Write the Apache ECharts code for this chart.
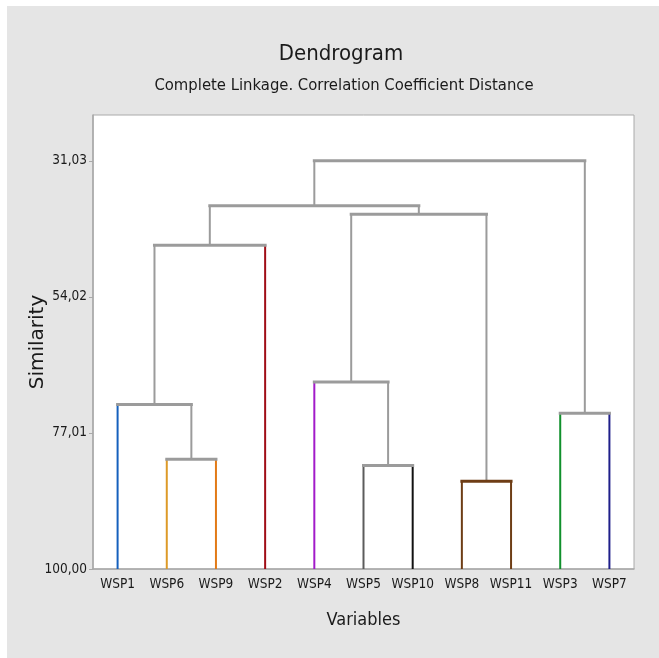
<!DOCTYPE html>
<html>
<head>
<meta charset="utf-8">
<script src="https://cdn.jsdelivr.net/npm/echarts@6/dist/echarts.min.js"></script>
<style>html,body{margin:0;padding:0;background:#fff}#c{width:659px;height:658px}</style>
</head>
<body>
<div id="c"></div>
<script>
// ---- data ----
const leaves = ['WSP1','WSP6','WSP9','WSP2','WSP4','WSP5','WSP10','WSP8','WSP11','WSP3','WSP7'];
// merge steps: node ids 0..10 are leaves (in display order), merge k creates node 11+k
const mergeLeft  = [7, 5, 1, 9, 0, 4, 15, 16, 17, 19];
const mergeRight = [8, 6, 2, 10, 13, 12, 3, 11, 18, 14];
const mergeSimilarity = [85.18, 82.52, 81.45, 73.67, 72.20, 68.42, 45.29, 40.05, 38.64, 31.03];
const yTickLabels = [100.00, 77.01, 54.02, 31.03];

// ---- styles ----
const leafColors = ['#1560bd','#dd9a28','#e27a17','#a00d16','#a21bc9','#5c5c5c','#111111','#6e3d15','#6e3d15','#10902c','#1f1f8a'];
const gray = '#9b9b9b';
const NF = "'Liberation Sans Narrow','DejaVu Sans Condensed',sans-serif";

// ---- build segments (distance = 100 - similarity) ----
const nLeaf = leaves.length;
const nodeX = leaves.map((_, i) => i);
const nodeD = leaves.map(() => 0);
const segs = []; // [x1, d1, x2, d2, color, kind]
mergeLeft.forEach((l, k) => {
  const r = mergeRight[k];
  const d = 100 - mergeSimilarity[k];
  const cl = l < nLeaf ? leafColors[l] : gray;
  const cr = r < nLeaf ? leafColors[r] : gray;
  const ch = (l < nLeaf && r < nLeaf && cl === cr) ? cl : gray;
  segs.push([nodeX[l], nodeD[l], nodeX[l], d, cl, 0]);
  segs.push([nodeX[r], nodeD[r], nodeX[r], d, cr, 0]);
  segs.push([nodeX[l], d, nodeX[r], d, ch, 1]);
  nodeX.push((nodeX[l] + nodeX[r]) / 2);
  nodeD.push(d);
});
const tickVals = yTickLabels.map(v => 100 - v);
const fmt = v => (100 - v).toFixed(2).replace('.', ',');

const chart = echarts.init(document.getElementById('c'));
chart.setOption({
  animation: false,
  backgroundColor: '#ffffff',
  graphic: [{
    type: 'rect', z: -100, silent: true,
    shape: {x: 7, y: 6, width: 652, height: 652},
    style: {fill: '#e5e5e5'}
  }],
  title: [{
    text: 'Dendrogram', left: 336, top: 38, textAlign: 'center',
    textStyle: {fontFamily: NF, fontSize: 22, fontWeight: 'normal', color: '#1a1a1a'}
  }, {
    text: 'Complete Linkage. Correlation Coefficient Distance', left: 339, top: 72, textAlign: 'center',
    textStyle: {fontFamily: NF, fontSize: 16.5, fontWeight: 'normal', color: '#1a1a1a'}
  }],
  grid: {left: 93, right: 25, top: 115, bottom: 89, show: true, backgroundColor: '#ffffff', borderColor: '#aaaaaa', borderWidth: 1},
  xAxis: [{
    type: 'category', data: leaves, boundaryGap: true, position: 'bottom',
    name: 'Variables', nameLocation: 'middle', nameGap: 42,
    nameTextStyle: {fontFamily: NF, fontSize: 18, color: '#1a1a1a'},
    axisLine: {lineStyle: {color: '#a9a9a9', width: 1.5}},
    axisTick: {alignWithLabel: true, length: 4, lineStyle: {color: '#a9a9a9'}},
    axisLabel: {fontFamily: NF, fontSize: 13.5, color: '#1a1a1a', margin: 8, interval: 0},
    splitLine: {show: false}
  }, {
    type: 'value', min: -0.5, max: 10.5, show: false
  }],
  yAxis: {
    type: 'value', min: 0, max: 76.7,
    name: 'Similarity', nameLocation: 'middle', nameGap: 45, nameRotate: 90, nameMoveOverlap: false,
    nameTextStyle: {fontFamily: "'DejaVu Sans',sans-serif", fontSize: 20, color: '#1a1a1a'},
    axisLine: {show: true, onZero: false, lineStyle: {color: '#a9a9a9', width: 1.5}},
    axisTick: {show: true, length: 4, lineStyle: {color: '#a9a9a9'}, customValues: tickVals},
    axisLabel: {fontFamily: NF, fontSize: 13.5, color: '#1a1a1a', margin: 6, customValues: tickVals, formatter: fmt},
    splitLine: {show: false}
  },
  series: [{
    type: 'custom', xAxisIndex: 1, yAxisIndex: 0,
    encode: {x: [0, 2], y: [1, 3]},
    data: segs,
    renderItem: function (params, api) {
      const p1 = api.coord([api.value(0), api.value(1)]);
      const p2 = api.coord([api.value(2), api.value(3)]);
      const s = segs[params.dataIndex];
      const horiz = s[5] === 1;
      return {
        type: 'line',
        shape: {x1: p1[0], y1: p1[1], x2: p2[0], y2: p2[1]},
        style: {stroke: s[4], lineWidth: horiz ? 3 : 2, lineCap: horiz ? 'square' : 'butt'},
        z2: horiz ? 2 : 1
      };
    }
  }]
});
</script>
</body>
</html>
